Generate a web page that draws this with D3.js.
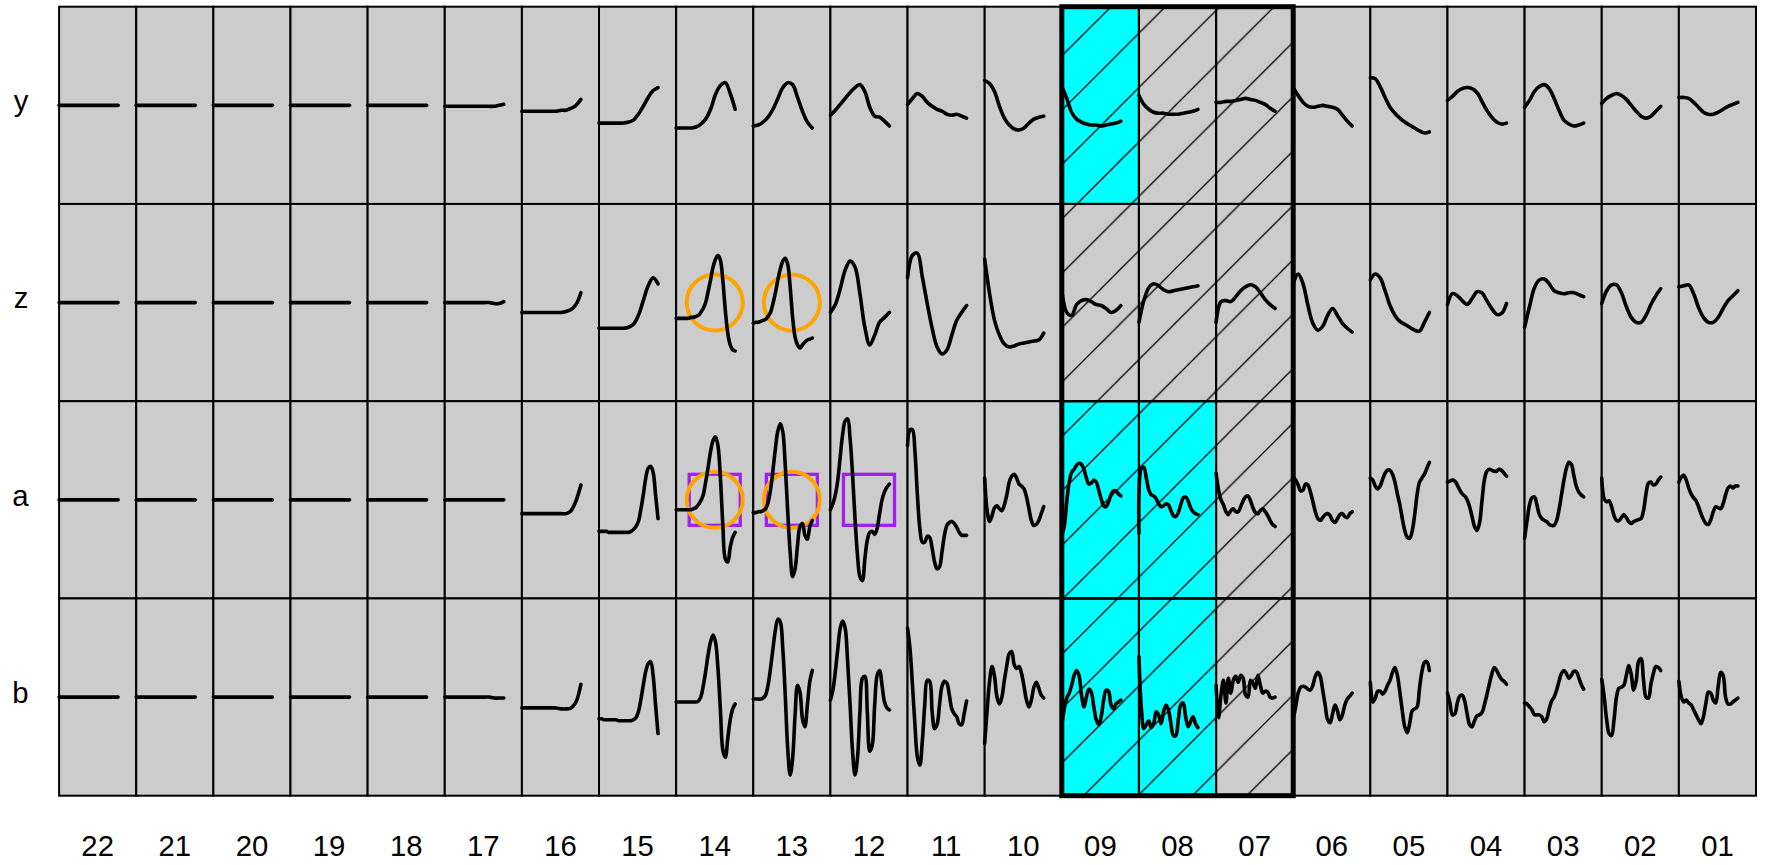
<!DOCTYPE html>
<html><head><meta charset="utf-8">
<script src="https://cdn.jsdelivr.net/npm/d3@7"></script>
<style>body{margin:0;background:#fff} svg{display:block}</style>
</head><body>
<svg id="chart" width="1773" height="865"></svg>
<script>
// ---- data ----
const columns = ["22","21","20","19","18","17","16","15","14","13","12","11","10","09","08","07","06","05","04","03","02","01"];
const rows = ["y","z","a","b"];

// values: offset from the row centre, in % of half a row (+ = up)
const seriesY = [
  [0,0,0,0,0,0,0,0,0,0,0,0,0],
  [0,0,0,0,0,0,0,0,0,0,0,0,0],
  [0,0,0,0,0,0,0,0,0,0,0,0,0],
  [0,0,0,0,0,0,0,0,0,0,0,0,0],
  [0,0,0,0,0,0,0,0,0,0,0,0,0],
  [-1,-1,-1,-1,-1,-1,-1,-1,-1,-1,-1,0,1],
  [-6,-6,-6,-6,-6,-6,-6,-6,-5,-5,-3,0,6],
  [-18,-18,-18,-18,-18,-18,-17,-15,-9,-1,8,15,18],
  [-23,-23,-23,-23,-22,-19,-14,-4,11,20,23,12,-4],
  [-21,-20,-17,-12,-4,7,18,23,21,8,-6,-17,-23],
  [-10,-5,1,7,13,18,21,14,-2,-11,-12,-16,-21],
  [1,7,12,9,3,-1,-4,-6,-9,-10,-9,-11,-13],
  [25,22,14,-1,-13,-20,-24,-25,-23,-18,-14,-12,-11],
  [19,7,-7,-14,-17,-19,-20,-20,-21,-20,-19,-18,-16],
  [10,1,-4,-7,-8,-8,-9,-9,-9,-8,-7,-6,-4],
  [3,3,4,4,5,6,7,6,5,3,1,-3,-6],
  [18,10,3,-1,-2,-1,0,-1,-2,-4,-10,-16,-21],
  [28,27,19,8,-2,-8,-13,-17,-20,-23,-26,-28,-27],
  [5,9,14,17,18,17,13,4,-5,-12,-17,-19,-18],
  [-2,5,14,19,21,17,7,-5,-15,-19,-21,-20,-18],
  [2,7,10,12,10,6,0,-6,-11,-13,-11,-6,-1],
  [8,8,7,3,-2,-7,-9,-9,-7,-4,-1,1,3]
];
const seriesZ = [
  [0,0,0,0,0,0,0,0,0,0,0,0,0],
  [0,0,0,0,0,0,0,0,0,0,0,0,0],
  [0,0,0,0,0,0,0,0,0,0,0,0,0],
  [0,0,0,0,0,0,0,0,0,0,0,0,0],
  [0,0,0,0,0,0,0,0,0,0,0,0,0],
  [0,0,0,0,0,0,0,0,0,0,-1,-1,1],
  [-10,-10,-10,-10,-10,-10,-10,-10,-10,-9,-7,-2,10],
  [-26,-26,-26,-26,-26,-26,-25,-22,-13,2,17,25,19],
  [-16,-16,-16,-16,-16,-16,-15,-15,-14,-13,-10,-6,0,11,23,36,44,48,43,22,-8,-31,-43,-48,-49],
  [-21,-20,-20,-19,-18,-17,-14,-10,-1,10,23,34,42,45,39,16,-15,-35,-43,-46,-43,-40,-38,-37,-36],
  [-10,-2,14,33,42,36,9,-25,-43,-33,-20,-15,-10],
  [25,48,50,26,-1,-26,-45,-52,-48,-33,-18,-10,-3],
  [44,9,-18,-33,-42,-45,-44,-42,-41,-40,-39,-38,-31],
  [12,-10,-13,-2,2,3,1,-2,-3,-6,-10,-8,-3],
  [-20,2,15,19,17,13,11,12,13,14,15,16,17],
  [-20,1,2,1,6,12,16,18,16,10,3,-2,-6],
  [19,29,19,-3,-21,-28,-24,-13,-6,-13,-21,-26,-30],
  [23,29,25,12,-3,-13,-19,-22,-25,-28,-29,-20,-10],
  [-2,9,7,2,-2,4,11,10,2,-6,-12,-11,-1],
  [-25,-4,15,23,24,19,12,10,9,10,10,8,6],
  [-1,12,18,18,10,-4,-15,-20,-20,-13,-2,7,14],
  [16,17,18,9,-5,-15,-20,-20,-15,-6,2,7,12]
];
const seriesA = [
  [0,0,0,0,0,0,0,0,0,0,0,0,0],
  [0,0,0,0,0,0,0,0,0,0,0,0,0],
  [0,0,0,0,0,0,0,0,0,0,0,0,0],
  [0,0,0,0,0,0,0,0,0,0,0,0,0],
  [0,0,0,0,0,0,0,0,0,0,0,0,0],
  [0,0,0,0,0,0,0,0,0,0,0,0,0],
  [-14,-14,-14,-14,-14,-14,-14,-14,-14,-14,-11,-1,15],
  [-32,-32,-32,-32,-33,-33,-33,-33,-33,-33,-33,-33,-33,-32,-30,-27,-22,-10,5,22,32,34,28,5,-19],
  [-10,-10,-10,-10,-10,-10,-10,-9,-8,-5,-1,5,18,33,49,60,64,55,22,-26,-60,-63,-48,-38,-33],
  [-13,-13,-12,-12,-11,-9,-3,10,30,52,70,77,69,35,-12,-53,-78,-70,-46,-27,-24,-36,-40,-27,-21],
  [-10,-4,5,20,44,67,80,82,62,26,-19,-56,-78,-82,-60,-41,-33,-32,-35,-29,-14,0,8,13,16],
  [55,71,71,49,5,-29,-43,-43,-37,-38,-49,-63,-70,-68,-53,-36,-26,-23,-22,-24,-28,-33,-36,-36,-36],
  [22,-11,-22,-16,-8,-6,-9,-11,-5,5,18,24,26,22,16,14,11,3,-9,-21,-26,-25,-21,-14,-7],
  [-36,-27,-2,18,28,31,35,37,36,31,22,16,17,20,18,10,1,-6,-7,-2,5,9,9,6,4],
  [-34,32,33,22,10,5,4,1,-4,-7,-6,-4,-5,-11,-16,-17,-13,-5,2,3,-1,-8,-12,-14,-15],
  [27,10,0,-5,-12,-15,-11,-9,-12,-12,-7,-1,3,4,-1,-8,-13,-14,-11,-9,-12,-16,-21,-25,-27],
  [23,20,15,9,10,16,15,8,-2,-12,-19,-21,-18,-15,-14,-16,-21,-23,-19,-15,-14,-17,-18,-14,-12],
  [22,20,14,11,14,21,27,30,30,26,18,6,-5,-19,-31,-38,-39,-32,-16,5,18,22,26,32,38],
  [18,19,20,19,15,10,6,4,0,-7,-17,-27,-31,-24,-2,20,29,31,30,29,29,31,30,27,24],
  [-39,-21,-5,2,3,-5,-15,-19,-21,-22,-25,-26,-26,-21,-10,5,20,32,38,36,25,14,8,5,3],
  [22,1,-2,-1,-7,-16,-21,-21,-18,-15,-18,-22,-24,-22,-21,-20,-19,-11,6,17,18,15,16,20,23],
  [18,23,25,20,12,6,2,-1,-7,-14,-20,-24,-25,-20,-12,-7,-8,-9,-4,5,12,14,12,14,14]
];
const seriesB = [
  [0,0,0,0,0,0,0,0,0,0,0,0,0],
  [0,0,0,0,0,0,0,0,0,0,0,0,0],
  [0,0,0,0,0,0,0,0,0,0,0,0,0],
  [0,0,0,0,0,0,0,0,0,0,0,0,0],
  [0,0,0,0,0,0,0,0,0,0,0,0,0],
  [0,0,0,0,0,0,0,0,0,0,-1,-1,-1],
  [-11,-11,-11,-11,-11,-11,-11,-11,-12,-12,-11,-5,13],
  [-22,-22,-23,-23,-23,-23,-23,-23,-24,-24,-24,-24,-24,-24,-23,-21,-15,-3,12,26,34,36,22,-8,-37],
  [-5,-5,-5,-5,-5,-5,-5,-5,-5,-4,0,11,26,43,56,63,56,29,-13,-54,-61,-42,-23,-12,-7],
  [-2,-2,-2,-2,-1,2,12,29,49,68,79,76,49,2,-52,-79,-62,-18,12,5,-22,-30,-8,16,27],
  [-3,7,26,49,70,77,70,36,-8,-55,-79,-62,-15,19,21,-15,-55,-49,-8,22,27,12,-5,-11,-13],
  [70,49,12,-28,-61,-69,-45,-8,17,16,-15,-32,-28,-8,11,16,14,2,-12,-17,-20,-27,-28,-17,-4],
  [-47,-13,16,31,21,0,-7,0,17,32,44,46,33,29,31,24,11,-3,-10,-3,10,15,9,2,-1],
  [-28,-12,-1,4,12,22,27,22,2,-10,0,8,5,-10,-23,-28,-20,-3,7,6,-8,-12,-7,-5,-3],
  [41,-12,-32,-28,-24,-31,-27,-15,-18,-27,-15,-8,-13,-27,-39,-39,-23,-8,-6,-20,-30,-25,-20,-27,-31],
  [12,-21,2,17,-6,19,4,17,21,15,22,19,2,0,17,14,9,22,12,4,6,5,0,-1,0],
  [-22,-10,4,10,11,10,8,7,12,21,25,21,7,-8,-23,-26,-17,-8,-14,-23,-18,-8,-2,1,4],
  [15,-5,-1,6,6,3,6,12,17,25,30,22,5,-14,-30,-36,-27,-14,-12,-10,9,26,35,36,27],
  [4,-6,-18,-17,-6,1,2,-4,-17,-28,-30,-24,-19,-18,-16,-8,2,13,23,30,27,22,18,16,13],
  [-6,-7,-10,-13,-18,-18,-18,-20,-25,-22,-12,-4,0,7,16,24,27,24,19,22,26,26,20,13,8],
  [18,0,-23,-37,-39,-23,0,9,10,12,22,32,23,7,16,36,39,17,0,-1,13,24,31,30,27],
  [16,0,-5,-3,-6,-8,-13,-18,-23,-27,-20,-6,5,4,-3,-6,11,25,22,0,-7,-7,-5,-3,-1]
];
const cyanCells = [["09","y"],["09","a"],["09","b"],["08","a"],["08","b"]];
const hatchedColumns = ["09","08","07"];
const boxedCells = [["14","a"],["13","a"],["12","a"]];
const circledCells = [["14","z"],["13","z"],["14","a"],["13","a"]];

// ---- drawing ----
const seriesByRow = {y: seriesY, z: seriesZ, a: seriesA, b: seriesB};
const svg = d3.select("#chart");
const FONT = "'Liberation Sans', Arial, Helvetica, sans-serif";

const x = d3.scaleBand().domain(columns).range([59.1, 1756]).padding(0);
const y = d3.scaleBand().domain(rows).range([6.7, 795.7]).padding(0);
const half = y.bandwidth() / 2;
const v = d3.scaleLinear().domain([-100, 100]).range([half, -half]);

const hs = 54.4;
const defs = svg.append("defs");
const pat = defs.append("pattern").attr("id", "hatch")
  .attr("patternUnits", "userSpaceOnUse").attr("width", hs).attr("height", hs)
  .attr("patternTransform", "translate(29.7,0)");
pat.append("path")
  .attr("d", `M0,${hs} L${hs},0 M${-hs/2},${hs/2} L${hs/2},${-hs/2} M${hs/2},${hs*1.5} L${hs*1.5},${hs/2}`)
  .attr("stroke", "#000").attr("stroke-width", 1.3).attr("fill", "none");

const isCyan = (c, r) => cyanCells.some(d => d[0] === c && d[1] === r);
const cells = [];
rows.forEach(r => columns.forEach((c, i) => cells.push({r, c, i})));

svg.append("g").selectAll("rect").data(cells).join("rect")
  .attr("x", d => x(d.c)).attr("y", d => y(d.r))
  .attr("width", x.bandwidth()).attr("height", y.bandwidth())
  .attr("fill", d => isCyan(d.c, d.r) ? "#00FFFF" : "#CCCCCC")
  .attr("stroke", "#000").attr("stroke-width", 2);

svg.append("g").selectAll("rect").data(hatchedColumns).join("rect")
  .attr("x", c => x(c)).attr("y", y.range()[0])
  .attr("width", x.bandwidth()).attr("height", y.range()[1] - y.range()[0])
  .attr("fill", "url(#hatch)");

// re-draw grid lines over hatch
svg.append("g").selectAll("rect").data(cells.filter(d => hatchedColumns.includes(d.c))).join("rect")
  .attr("x", d => x(d.c)).attr("y", d => y(d.r))
  .attr("width", x.bandwidth()).attr("height", y.bandwidth())
  .attr("fill", "none").attr("stroke", "#000").attr("stroke-width", 2);

// markers
svg.append("g").selectAll("rect").data(boxedCells).join("rect")
  .attr("x", d => x(d[0]) + x.bandwidth()/2 - 25.5)
  .attr("y", d => y(d[1]) + half - 25.5)
  .attr("width", 51).attr("height", 51)
  .attr("fill", "none").attr("stroke", "#A020F0").attr("stroke-width", 3.3);
svg.append("g").selectAll("circle").data(circledCells).join("circle")
  .attr("cx", d => x(d[0]) + x.bandwidth()/2)
  .attr("cy", d => y(d[1]) + half)
  .attr("r", 28)
  .attr("fill", "none").attr("stroke", "#FFA500").attr("stroke-width", 4);

// sparklines
const span = x.bandwidth() * 0.765;
const lineG = svg.append("g");
rows.forEach(r => {
  columns.forEach((c, i) => {
    const data = seriesByRow[r][i];
    const xs = d3.scaleLinear().domain([0, data.length - 1]).range([x(c), x(c) + span]);
    const cy = y(r) + half;
    const line = d3.line().x((d, k) => xs(k)).y(d => cy + v(d)).curve(d3.curveCatmullRom.alpha(0.5));
    lineG.append("path").attr("d", line(data))
      .attr("fill", "none").attr("stroke", "#000").attr("stroke-width", 3.6)
      .attr("stroke-linecap", "round").attr("stroke-linejoin", "round");
  });
});

// thick outline around hatched columns
const hx0 = d3.min(hatchedColumns, c => x(c));
const hx1 = d3.max(hatchedColumns, c => x(c) + x.bandwidth());
svg.append("rect").attr("x", hx0).attr("y", y.range()[0])
  .attr("width", hx1 - hx0).attr("height", y.range()[1] - y.range()[0])
  .attr("fill", "none").attr("stroke", "#000").attr("stroke-width", 5);

// axes
const xAxis = svg.append("g").attr("transform", `translate(0,${y.range()[1]})`)
  .call(d3.axisBottom(x).tickSize(0).tickPadding(39.3));
xAxis.select(".domain").remove();
xAxis.selectAll("text").attr("font-size", 29.3).attr("font-family", FONT).attr("fill", "#000");

const yAxis = svg.append("g").attr("transform", `translate(${x.range()[0]},0)`)
  .call(d3.axisLeft(y).tickSize(0).tickPadding(30.6));
yAxis.select(".domain").remove();
yAxis.selectAll("text").attr("font-size", 29.3).attr("font-family", FONT).attr("fill", "#000").attr("dy", "0.2em");
</script>
</body></html>
